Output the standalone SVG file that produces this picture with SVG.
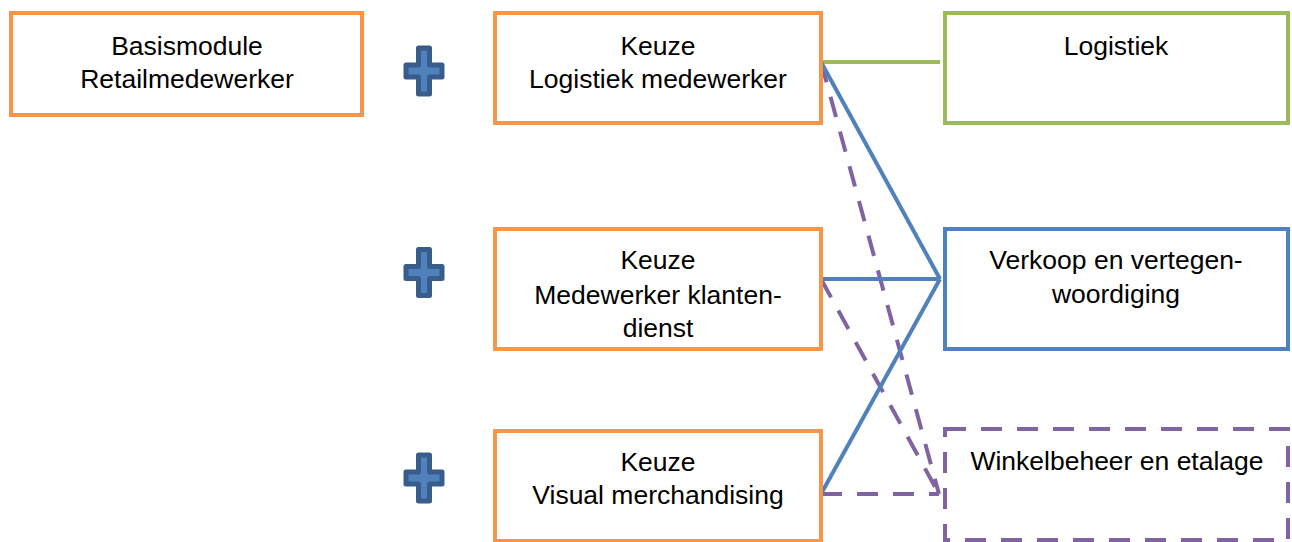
<svg xmlns="http://www.w3.org/2000/svg" width="1292" height="542" viewBox="0 0 1292 542">
<style>
  .box{fill:#fff;stroke-width:4}
  .org{stroke:#f79646}
  .t{font-family:"Liberation Sans",Arial,sans-serif;font-size:26.5px;fill:#000;text-anchor:middle}
  .blue{stroke:#4f81bd;stroke-width:4;fill:none}
  .purp{stroke:#8064a2;stroke-width:4;fill:none;stroke-dasharray:21 15}
  .plus{fill:#4f81bd;stroke:#385d8a;stroke-width:5;stroke-linejoin:round}
</style>
<defs>
  <path id="plus" d="M-5.5,-23 H5.5 V-6 H18 V6 H5.5 V23 H-5.5 V6 H-18 V-6 H-5.5 Z"/>
</defs>
<rect width="1292" height="542" fill="#fff"/>
<g id="connectors">
  <line x1="821" y1="62" x2="940" y2="62" stroke="#9bbb59" stroke-width="4"/>
  <line class="purp" x1="821" y1="62" x2="939" y2="494"/>
  <line class="purp" x1="821" y1="279" x2="939" y2="494"/>
  <line class="purp" x1="821" y1="494" x2="939" y2="494"/>
  <line class="blue" x1="821" y1="62" x2="940" y2="279"/>
  <line class="blue" x1="821" y1="279" x2="940" y2="279"/>
  <line class="blue" x1="821" y1="494" x2="940" y2="279"/>
</g>
<g id="basis">
  <rect class="box org" x="11" y="13" width="351" height="102"/>
  <text class="t" x="187" y="55">Basismodule</text>
  <text class="t" x="187" y="88">Retailmedewerker</text>
</g>
<g id="plus1"><use href="#plus" class="plus" transform="translate(424,71)"/></g>
<g id="plus2"><use href="#plus" class="plus" transform="translate(424,272.5)"/></g>
<g id="plus3"><use href="#plus" class="plus" transform="translate(424,478)"/></g>
<g id="keuze1">
  <rect class="box org" x="495" y="13" width="326" height="110"/>
  <text class="t" x="658" y="55">Keuze</text>
  <text class="t" x="658" y="88">Logistiek medewerker</text>
</g>
<g id="keuze2">
  <rect class="box org" x="495" y="229" width="326" height="120"/>
  <text class="t" x="658" y="269">Keuze</text>
  <text class="t" x="658" y="304">Medewerker klanten-</text>
  <text class="t" x="658" y="337">dienst</text>
</g>
<g id="keuze3">
  <rect class="box org" x="495" y="431" width="326" height="110"/>
  <text class="t" x="658" y="471">Keuze</text>
  <text class="t" x="658" y="504">Visual merchandising</text>
</g>
<g id="logistiek">
  <rect class="box" stroke="#9bbb59" x="945" y="13" width="343" height="110"/>
  <text class="t" x="1116" y="55">Logistiek</text>
</g>
<g id="verkoop">
  <rect class="box" stroke="#4f81bd" x="945" y="229" width="343" height="120"/>
  <text class="t" x="1116" y="269">Verkoop en vertegen-</text>
  <text class="t" x="1116" y="303">woordiging</text>
</g>
<g id="winkel">
  <rect class="box" stroke="#8064a2" stroke-dasharray="21 15" x="945" y="429" width="343" height="111"/>
  <text class="t" x="1117" y="470">Winkelbeheer en etalage</text>
</g>
</svg>
